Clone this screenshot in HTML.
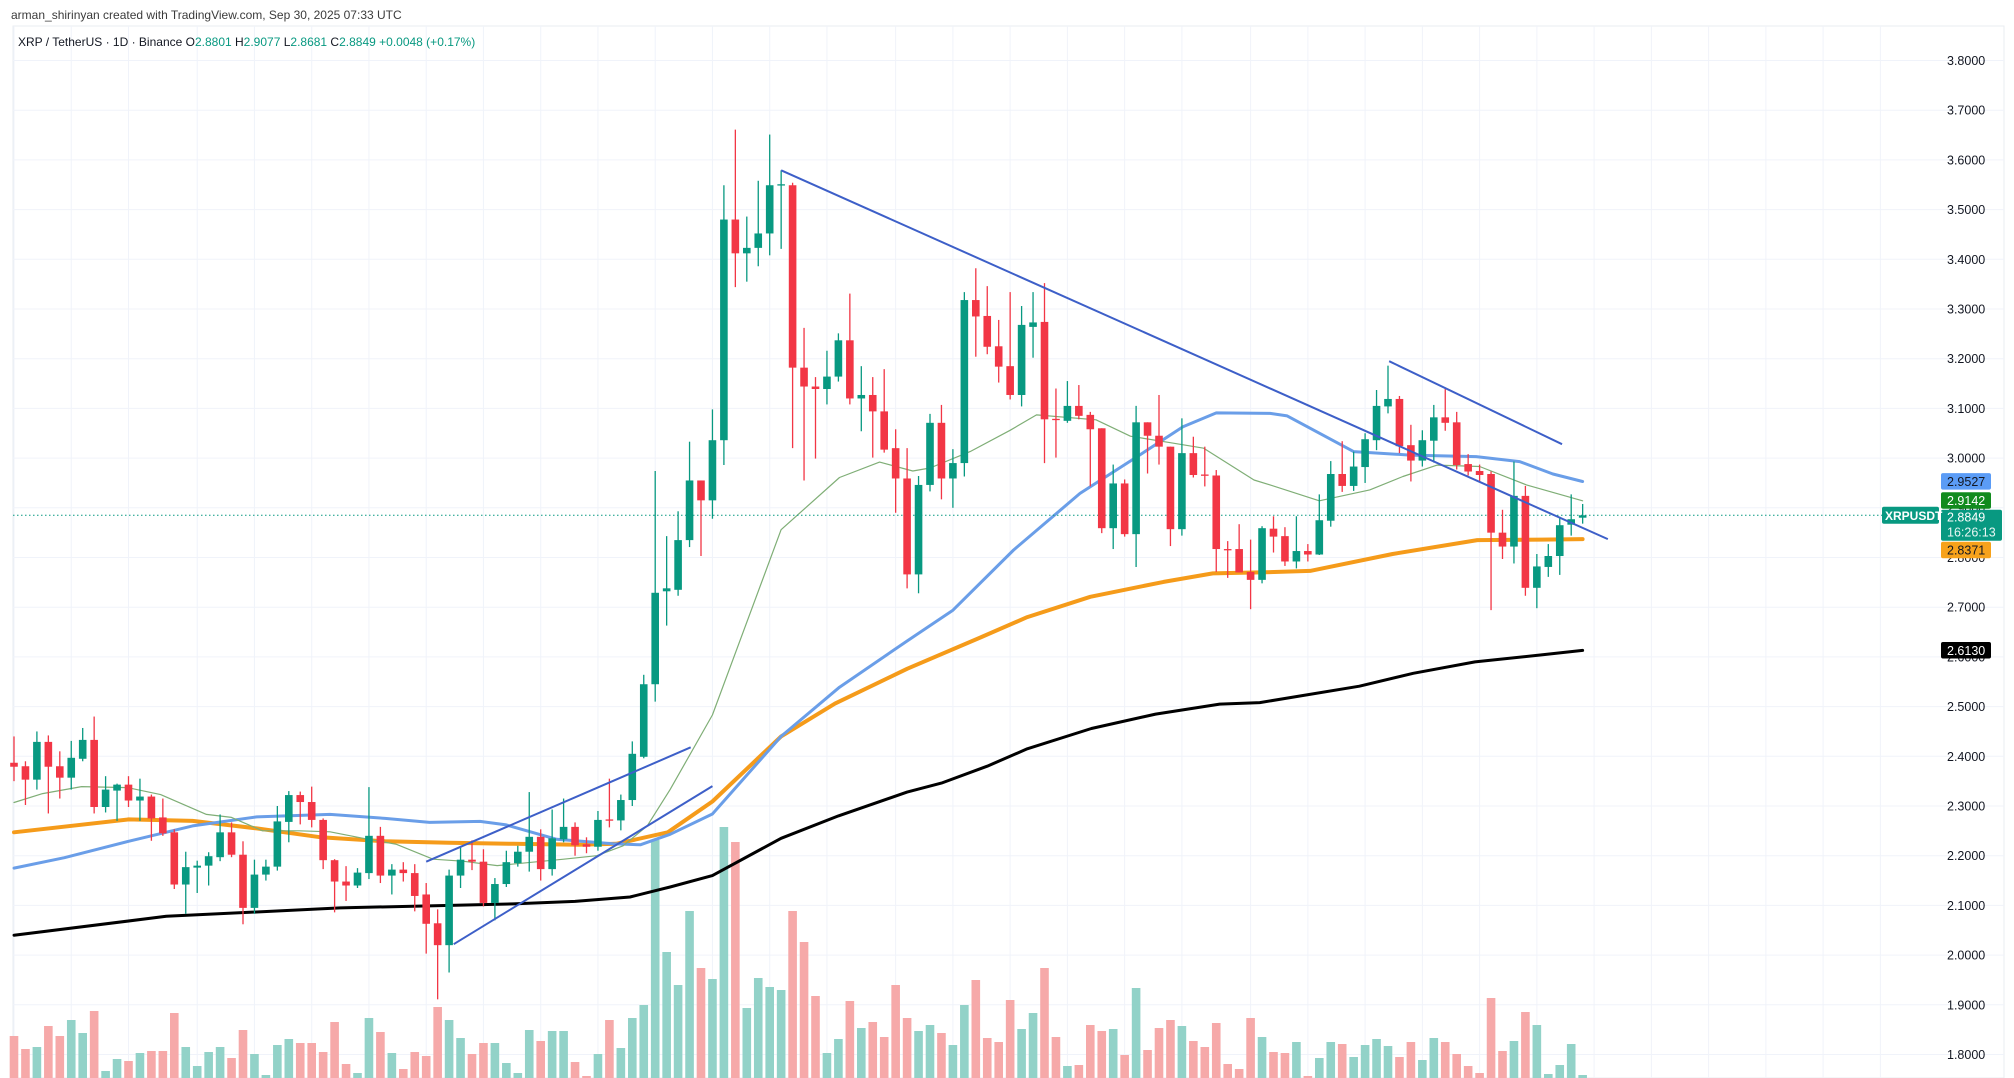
<!DOCTYPE html>
<html><head><meta charset="utf-8"><title>XRP / TetherUS</title>
<style>
html,body{margin:0;padding:0;background:#fff;}
svg{display:block;font-family:"Liberation Sans",sans-serif;}
</style></head>
<body>
<svg id="chart" width="2014" height="1078" viewBox="0 0 2014 1078" xmlns="http://www.w3.org/2000/svg">
<rect x="0" y="0" width="2014" height="1078" fill="#ffffff"/>
<g id="grid"></g>
<g id="vol"></g>
<g id="mas"></g>
<g id="candles"></g>
<g id="trend"></g>
<g id="axis"></g>
<text x="11" y="19" font-size="12" fill="#3b3b3b">arman_shirinyan created with TradingView.com, Sep 30, 2025 07:33 UTC</text>
<text x="18" y="46" font-size="12" fill="#131722">XRP / TetherUS · 1D · Binance  O<tspan fill="#089981">2.8801</tspan>  H<tspan fill="#089981">2.9077</tspan>  L<tspan fill="#089981">2.8681</tspan>  C<tspan fill="#089981">2.8849</tspan>  <tspan fill="#089981">+0.0048 (+0.17%)</tspan></text>
</svg>
<script>
const opens=[2.387,2.38,2.353,2.429,2.38,2.357,2.395,2.433,2.298,2.331,2.343,2.311,2.319,2.277,2.247,2.142,2.176,2.18,2.197,2.247,2.202,2.095,2.162,2.178,2.268,2.322,2.308,2.272,2.191,
2.148,2.14,2.165,2.24,2.16,2.172,2.165,2.122,2.064,2.02,2.16,2.192,2.188,2.105,2.143,2.185,2.208,2.238,2.173,2.233,2.258,2.223,2.218,2.273,2.271,2.312,
2.399,2.545,2.732,2.735,2.835,2.955,2.915,3.036,3.48,3.412,3.423,3.452,3.549,3.549,3.182,3.144,3.139,3.164,3.237,3.12,3.127,3.094,3.02,2.959,2.766,2.946,
3.071,2.959,2.99,3.318,3.286,3.225,3.185,3.127,3.264,3.274,3.079,3.075,3.105,3.087,3.06,2.859,2.949,2.847,3.072,3.045,3.023,2.857,3.01,2.967,2.965,2.817,2.817,2.771,2.755,
2.858,2.843,2.792,2.813,2.806,2.874,2.968,2.944,2.982,3.036,3.104,3.119,3.026,2.995,3.035,3.082,3.072,2.988,2.974,2.968,2.85,2.822,2.924,2.739,2.781,2.803,2.866,2.8801];
const highs=[2.44,2.39,2.45,2.442,2.41,2.431,2.457,2.48,2.36,2.345,2.36,2.355,2.323,2.315,2.253,2.208,2.19,2.207,2.283,2.267,2.229,2.192,2.192,2.3,2.33,2.329,2.339,2.275,2.193,
2.179,2.175,2.338,2.258,2.183,2.187,2.183,2.145,2.092,2.172,2.219,2.231,2.213,2.155,2.21,2.22,2.328,2.253,2.293,2.315,2.267,2.237,2.29,2.355,2.323,2.43,
2.564,2.974,2.843,2.893,3.033,2.955,3.098,3.549,3.661,3.486,3.558,3.651,3.579,3.554,3.262,3.163,3.216,3.251,3.331,3.185,3.163,3.179,3.058,3.02,2.964,3.089,
3.107,3.018,3.334,3.382,3.346,3.278,3.334,3.306,3.334,3.352,3.14,3.155,3.147,3.093,3.06,2.987,2.957,3.105,3.072,3.127,3.023,3.08,3.043,3.023,2.976,2.833,2.867,2.836,2.863,
2.883,2.861,2.883,2.827,2.927,2.994,3.034,3.013,3.05,3.137,3.186,3.125,3.067,3.056,3.107,3.139,3.093,3.008,2.987,2.973,2.896,2.993,2.944,2.807,2.827,2.882,2.927,2.9077];
const lows=[2.35,2.302,2.333,2.285,2.315,2.333,2.39,2.285,2.287,2.27,2.298,2.27,2.23,2.24,2.133,2.083,2.125,2.14,2.189,2.197,2.062,2.083,2.15,2.17,2.227,2.263,2.257,2.173,2.086,
2.109,2.135,2.153,2.145,2.122,2.148,2.088,2.003,1.911,1.965,2.135,2.171,2.098,2.07,2.137,2.178,2.168,2.15,2.16,2.227,2.2,2.205,2.21,2.257,2.251,2.3,
2.396,2.51,2.663,2.723,2.821,2.803,2.878,2.986,3.344,3.355,3.386,3.408,3.421,3.02,2.955,2.999,3.108,3.154,3.108,3.054,3.001,3.011,2.89,2.738,2.728,2.933,
2.917,2.9,2.963,3.204,3.209,3.152,3.118,3.104,3.202,2.99,3.001,3.071,3.078,2.943,2.849,2.817,2.842,2.781,2.969,2.987,2.823,2.844,2.961,2.943,2.771,2.759,2.77,2.696,2.748,
2.81,2.783,2.778,2.792,2.805,2.862,2.932,2.934,2.95,3.016,3.09,3.01,2.953,2.983,2.991,3.055,2.977,2.965,2.951,2.694,2.797,2.788,2.723,2.698,2.761,2.765,2.844,2.8681];
const closes=[2.379,2.353,2.429,2.379,2.357,2.397,2.433,2.298,2.333,2.343,2.311,2.319,2.275,2.245,2.142,2.177,2.18,2.199,2.247,2.202,2.095,2.162,2.178,2.269,2.322,2.308,2.272,2.191,2.148,
2.14,2.166,2.24,2.16,2.172,2.165,2.119,2.063,2.02,2.16,2.192,2.188,2.105,2.143,2.187,2.208,2.238,2.173,2.235,2.258,2.221,2.218,2.272,2.271,2.312,2.405,
2.545,2.729,2.738,2.835,2.955,2.915,3.036,3.48,3.412,3.423,3.452,3.549,3.551,3.182,3.144,3.139,3.164,3.237,3.12,3.127,3.094,3.017,2.959,2.766,2.946,3.071,
2.959,2.99,3.318,3.285,3.224,3.184,3.127,3.268,3.273,3.078,3.077,3.105,3.085,3.058,2.859,2.949,2.847,3.072,3.045,3.023,2.857,3.01,2.966,2.965,2.817,2.815,2.77,2.755,2.859,
2.842,2.792,2.813,2.806,2.875,2.968,2.944,2.983,3.038,3.105,3.119,3.024,2.995,3.036,3.082,3.071,2.986,2.973,2.966,2.85,2.822,2.924,2.739,2.782,2.803,2.865,2.877,2.8849];
const volumes=[42,29,31,52,42,58,45,67,7,19,17,25,27,27,65,31,12,26,31,20,48,24,3,33,39,35,35,26,56,
14,5,60,46,25,9,26,22,71,58,40,24,35,35,15,5,48,37,47,47,16,2,24,58,30,60,
73,238,126,93,167,110,99,251,236,70,100,91,88,167,136,82,25,39,77,50,56,41,93,60,47,53,
45,33,73,98,40,36,78,49,65,110,41,12,13,53,47,49,23,90,28,50,58,52,37,31,55,14,9,60,41,26,25,36,
2,20,36,34,21,33,39,32,21,36,18,40,36,24,12,5,80,27,37,66,53,4,13,34,3];
const priceTicks=[1.8,1.9,2.0,2.1,2.2,2.3,2.4,2.5,2.6,2.7,2.8,2.9,3.0,3.1,3.2,3.3,3.4,3.5,3.6,3.7,3.8];
const tickLabels=["1.8000","1.9000","2.0000","2.1000","2.2000","2.3000","2.4000","2.5000","2.6000","2.7000","2.8000","2.9000","3.0000","3.1000","3.2000","3.3000","3.4000","3.5000","3.6000","3.7000","3.8000"];
const timeGridIdx=[1,6,11,17,22,27,32,37,42,47,52,57,62,67,72,78,83,88,93,98,103,109,114,119,124,129,134,139,144,149,154,159,164];
const ma20Idx=[1,3.5,6.9,10.9,13.8,17.8,20,22.7,25.9,28.6,31.5,34.4,37.6,40.2,43.2,49,51.9,54.2,56.3,58.3,62,68,73.1,76.6,79.5,81,84.5,88,90.3,95.5,98.5,102,104.9,109.3,110.7,115,119.4,122.3,125.3,129,133.1,138];
const ma20Val=[2.307,2.325,2.339,2.337,2.323,2.283,2.277,2.25,2.25,2.248,2.235,2.223,2.193,2.189,2.18,2.193,2.2,2.22,2.26,2.333,2.483,2.856,2.961,2.992,2.974,2.98,3.013,3.056,3.087,3.077,3.044,3.031,3.02,2.956,2.946,2.914,2.936,2.963,2.986,2.983,2.946,2.914];
const ma50Idx=[1,5.4,11,16.6,22.2,28.6,33.4,37.3,41.7,44,48.4,53.3,55.7,58.3,62,68,73.1,79,83,88.3,94.1,99.1,103.1,106,110.7,112.2,118,122.9,128.7,132.5,135.4,138];
const ma50Val=[2.175,2.196,2.229,2.26,2.278,2.283,2.275,2.267,2.269,2.262,2.233,2.224,2.222,2.243,2.284,2.44,2.539,2.632,2.694,2.815,2.929,3.003,3.063,3.091,3.09,3.085,3.013,3.006,3.003,2.993,2.968,2.953];
const ma100Idx=[1,11,16.6,22.2,27.8,33.4,39,44.6,50.3,53.6,58.1,62,68,72.7,79,85.6,89.5,95,101.4,105.7,109.8,114.2,121.4,128.8,134.4,138];
const ma100Val=[2.247,2.273,2.27,2.255,2.237,2.229,2.226,2.224,2.222,2.224,2.247,2.309,2.44,2.506,2.576,2.641,2.68,2.721,2.751,2.768,2.77,2.773,2.807,2.835,2.836,2.837];
const ma200Idx=[1,14.3,29.5,44.6,50,54.8,58.3,62,68,73,79,82,86,89.5,95.1,100.7,106.3,109.8,118.5,123.2,128.6,134.4,138];
const ma200Val=[2.04,2.078,2.095,2.103,2.108,2.117,2.137,2.16,2.235,2.28,2.328,2.346,2.38,2.415,2.456,2.485,2.505,2.508,2.541,2.567,2.59,2.604,2.613];
const trendStartIdx=[68,121.1,37,39.4];
const trendStartVal=[3.579,3.195,2.188,2.022];
const trendEndIdx=[140.2,136.2,60.1,62];
const trendEndVal=[2.837,3.028,2.418,2.34];
const tagNames=["ma50-price-tag","ma20-price-tag","last-price-tag","ma100-price-tag","ma200-price-tag"];
const tagValues=[2.9527,2.9142,2.8849,2.8371,2.6130];
const tagTexts=["2.9527","2.9142","2.8849","2.8371","2.6130"];
const tagFills=["#5b9cf6","#118b1e","#089981","#f7a21b","#000000"];
const tagInk=["#131722","#ffffff","#ffffff","#131722","#ffffff"];
const lastPrice=2.8849;

const NS="http://www.w3.org/2000/svg";
const X0=14, DX=11.45, PLEFT=13, PRIGHT=2004, PTOP=26;
function xs(i){return X0+(i-1)*DX;}
function ys(p){return 60.5+(3.8-p)*497;}
function yv(v){return 1078-v;}
function mk(tag,attrs,parent){const e=document.createElementNS(NS,tag);for(const k in attrs)e.setAttribute(k,attrs[k]);parent.appendChild(e);return e;}
const G=id=>document.getElementById(id);

const grid=G('grid');
mk('rect',{x:PLEFT,y:PTOP,width:PRIGHT-PLEFT,height:1078-PTOP,fill:'none',stroke:'#e9ecf2','stroke-width':1},grid);
priceTicks.forEach(p=>{const l=mk('line',{x1:PLEFT,x2:PRIGHT,y1:ys(p),y2:ys(p),stroke:'#f0f3fa','stroke-width':1},grid);

});
timeGridIdx.forEach(i=>{const l=mk('line',{x1:xs(i),x2:xs(i),y1:PTOP,y2:1078,stroke:'#f0f3fa','stroke-width':1},grid);

});

const vol=G('vol');
volumes.forEach((v,k)=>{const up=closes[k]>=opens[k];
const r=mk('rect',{x:xs(k+1)-4.3,y:yv(v),width:8.6,height:v,fill:up?'#92d2c8':'#f6a9a9'},vol);

});

function line(idx,val,color,w,name){const d=idx.map((i,k)=>(k?'L':'M')+xs(i).toFixed(1)+' '+ys(val[k]).toFixed(1)).join(' ');
const p=mk('path',{d:d,fill:'none',stroke:color,'stroke-width':w,'stroke-linejoin':'round','stroke-linecap':'round'},G('mas'));

}
line(ma200Idx,ma200Val,'#000000',3,'ma200-line');
line(ma100Idx,ma100Val,'#f59b1a',4,'ma100-line');
line(ma50Idx,ma50Val,'#6a9ee8',3,'ma50-line');
line(ma20Idx,ma20Val,'#7fae76',1.2,'ma20-line');

const lp=mk('line',{x1:PLEFT,x2:1882,y1:ys(lastPrice),y2:ys(lastPrice),stroke:'#089981','stroke-width':1,'stroke-dasharray':'1.5 2.5'},G('mas'));



const cg=G('candles');
opens.forEach((o,k)=>{const c=closes[k],up=c>=o,col=up?'#089981':'#f23645',x=xs(k+1);
const g=mk('g',{},cg);


mk('line',{x1:x,x2:x,y1:ys(highs[k]),y2:ys(lows[k]),stroke:col,'stroke-width':1.3},g);
const top=ys(Math.max(o,c)),h=Math.max(1.3,Math.abs(ys(o)-ys(c)));
mk('rect',{x:x-3.8,y:top,width:7.6,height:h,fill:col},g);});

const tg=G('trend');
trendStartIdx.forEach((s,k)=>{const l=mk('line',{x1:xs(s),y1:ys(trendStartVal[k]),x2:xs(trendEndIdx[k]),y2:ys(trendEndVal[k]),stroke:'#3d5fc8','stroke-width':2},tg);

});

const ax=G('axis');
priceTicks.forEach((p,k)=>{const t=mk('text',{x:1947,y:ys(p)+4.5,'font-size':12.5,fill:'#131722'},ax);
t.textContent=tickLabels[k];

});

// tags: stacked top-down to avoid overlap like TradingView
let nextTop=0;
tagValues.forEach((v,k)=>{const y=ys(v);const last=k===2;
const g=mk('g',{},ax);


if(last){let top=Math.max(y-6,nextTop);
mk('rect',{x:1941,y:top,width:61,height:31,rx:2,fill:tagFills[k]},g);
const t1=mk('text',{x:1947,y:top+12,'font-size':12.5,fill:'#fff'},g);t1.textContent=tagTexts[k];
const t2=mk('text',{x:1947,y:top+27,'font-size':12.5,fill:'#e8f6f3'},g);t2.textContent='16:26:13';
mk('rect',{x:1882,y:y-8.5,width:57,height:17,rx:2,fill:tagFills[k]},g);
const t3=mk('text',{x:1885,y:y+4.5,'font-size':12,fill:'#fff','font-weight':'bold'},g);t3.textContent='XRPUSDT';
nextTop=top+32;}
else{let top=Math.max(y-8.5,nextTop);
mk('rect',{x:1941,y:top,width:50,height:16.5,rx:2,fill:tagFills[k]},g);
const t=mk('text',{x:1947,y:top+13,'font-size':12.5,fill:tagInk[k]},g);t.textContent=tagTexts[k];
nextTop=top+17.5;}});
</script>
</body></html>
